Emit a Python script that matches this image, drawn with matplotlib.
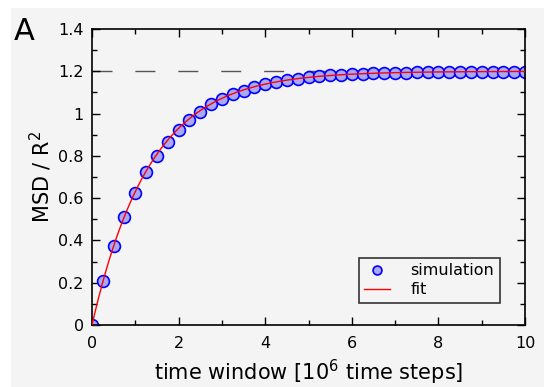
import numpy as np
import matplotlib
matplotlib.use('Agg')
import matplotlib.pyplot as plt
from matplotlib.patches import Rectangle

plt.rcParams['lines.scale_dashes'] = False

# simulated mean squared displacement, sampled every 0.25 x 10^6 steps
t_sim = [0.0, 0.25, 0.5, 0.75, 1.0, 1.25, 1.5, 1.75, 2.0, 2.25, 2.5, 2.75, 3.0, 3.25,
         3.5, 3.75, 4.0, 4.25, 4.5, 4.75, 5.0, 5.25, 5.5, 5.75, 6.0, 6.25, 6.5, 6.75,
         7.0, 7.25, 7.5, 7.75, 8.0, 8.25, 8.5, 8.75, 9.0, 9.25, 9.5, 9.75, 10.0]
msd_sim = [0.0, 0.208, 0.374, 0.511, 0.624, 0.724, 0.800, 0.866, 0.922, 0.970, 1.008,
           1.045, 1.069, 1.093, 1.107, 1.126, 1.140, 1.150, 1.159, 1.165, 1.172, 1.177,
           1.181, 1.184, 1.187, 1.189, 1.191, 1.192, 1.193, 1.194, 1.195, 1.196, 1.196,
           1.197, 1.197, 1.198, 1.198, 1.198, 1.198, 1.198, 1.198]

# exponential saturation fit: plateau * (1 - exp(-t / tau))
plateau = 1.2
tau = 1.34

bg = '#f4f4f4'
fig = plt.figure(figsize=(5.44, 3.87), dpi=100, facecolor='white')
fig.patches.append(Rectangle((11 / 544, 0), 1, 1 - 8 / 387, transform=fig.transFigure,
                             facecolor=bg, edgecolor='none', zorder=-10))
ax = fig.add_axes([92 / 544, 1 - 325 / 387, (525 - 92) / 544, (325 - 29) / 387])
ax.set_facecolor(bg)

ax.plot([0, 10], [plateau, plateau], color='#555555', lw=1.0, dashes=(14.4, 16.5), zorder=1)

t_fit = np.linspace(0, 10, 400)
ax.plot(t_fit, plateau * (1 - np.exp(-t_fit / tau)), color='red', lw=1.0, label='fit', zorder=3)
ax.plot(t_sim, msd_sim, 'o', ms=8.5, mfc=(0.66, 0.66, 0.97), mec='blue', mew=1.2,
        label='simulation', zorder=2)

ax.set_xlim(0, 10)
ax.set_ylim(0, 1.4)
ax.set_xticks([0, 2, 4, 6, 8, 10])
ax.set_xticklabels(['0', '2', '4', '6', '8', '10'])
ax.set_yticks([0, 0.2, 0.4, 0.6, 0.8, 1.0, 1.2, 1.4])
ax.set_yticklabels(['0', '0.2', '0.4', '0.6', '0.8', '1', '1.2', '1.4'])
ax.set_xticks(np.arange(1, 10, 2), minor=True)
ax.set_yticks(np.arange(0.1, 1.4, 0.2), minor=True)
ax.tick_params(which='both', direction='in', top=True, right=True, labelsize=11.5)
ax.tick_params(axis='x', pad=8)
ax.tick_params(axis='y', pad=6)
ax.tick_params(which='major', length=6, width=1)
ax.tick_params(which='minor', length=3.5, width=1)
for s in ax.spines.values():
    s.set_linewidth(1.2)

ax.set_xlabel('time window [10$^6$ time steps]', fontsize=15, labelpad=5)
ax.set_ylabel('MSD / R$^2$', fontsize=15, labelpad=3)

handles, labels = ax.get_legend_handles_labels()
leg = ax.legend(handles[::-1], labels[::-1], loc='lower right',
                bbox_to_anchor=(408 / 433, 22 / 296), fontsize=11.5, frameon=True,
                fancybox=False, edgecolor='#333333', framealpha=1, facecolor=bg,
                handlelength=1.6, borderpad=0.35, labelspacing=0.25, handletextpad=1.3,
                borderaxespad=0, markerscale=0.75)
leg.get_frame().set_linewidth(1.2)

fig.text(14 / 544, 1 - 40 / 387, 'A', fontsize=22, va='baseline')

fig.savefig('out.png', dpi=100, facecolor='white')
